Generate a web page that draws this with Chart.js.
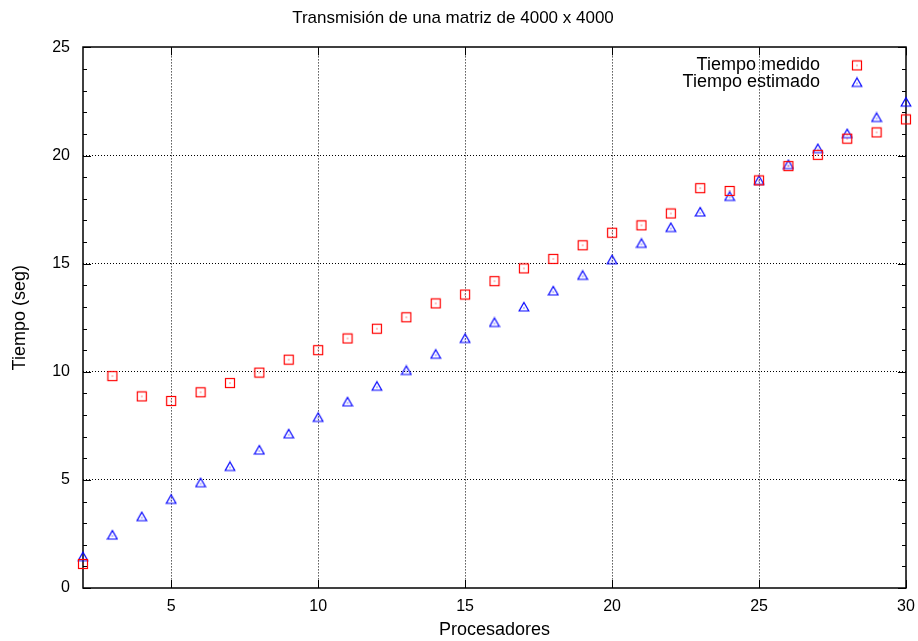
<!DOCTYPE html>
<html>
<head>
<meta charset="utf-8">
<title>Transmisión de una matriz de 4000 x 4000</title>
<script src="https://cdn.jsdelivr.net/npm/chart.js@4/dist/chart.umd.min.js"></script>
<style>
    html, body { margin: 0; padding: 0; background: #fff; }
    #chart { display: block; }
</style>
</head>
<body>
<canvas id="chart" width="918" height="641"></canvas>
<script>
// Datos
const procesadores = [2, 3, 4, 5, 6, 7, 8, 9, 10, 11, 12, 13, 14, 15, 16, 17, 18, 19, 20, 21, 22, 23, 24, 25, 26, 27, 28, 29, 30];
const tiempoMedido = [1.11, 9.80, 8.86, 8.65, 9.05, 9.48, 9.96, 10.56, 11.00, 11.54, 11.99, 12.52, 13.16, 13.57, 14.19, 14.78, 15.22, 15.85, 16.43, 16.77, 17.32, 18.49, 18.36, 18.85, 19.51, 20.03, 20.78, 21.07, 21.67];
const tiempoEstimado = [1.45, 2.45, 3.30, 4.10, 4.87, 5.62, 6.38, 7.13, 7.89, 8.61, 9.33, 10.06, 10.81, 11.54, 12.28, 13.00, 13.74, 14.46, 15.18, 15.94, 16.67, 17.39, 18.11, 18.85, 19.58, 20.32, 21.01, 21.76, 22.47];
const xTicks = [5, 10, 15, 20, 25, 30];
const yTicks = [0, 5, 10, 15, 20, 25];
const seriesLabels = ['Tiempo medido', 'Tiempo estimado'];

const FONT = '"Liberation Sans", Arial, Helvetica, sans-serif';
Chart.defaults.font.family = FONT;
Chart.defaults.color = '#000';

// gnuplot-like markers (outline + centre dot)
function makeSquare(color) {
    const c = document.createElement('canvas');
    c.width = 12; c.height = 12;
    const g = c.getContext('2d');
    g.strokeStyle = color;
    g.lineWidth = 1.2;
    g.strokeRect(1.5, 1.5, 9, 9);
    g.fillStyle = color;
    g.fillRect(5.5, 5.5, 1, 1);
    return c;
}
function makeTriangle(color) {
    const c = document.createElement('canvas');
    c.width = 12; c.height = 12;
    const g = c.getContext('2d');
    g.strokeStyle = color;
    g.lineWidth = 1.2;
    g.beginPath();
    g.moveTo(6, 1.5);
    g.lineTo(10.8, 10);
    g.lineTo(1.2, 10);
    g.closePath();
    g.stroke();
    g.fillStyle = color;
    g.fillRect(5.5, 6.5, 1, 1);
    return c;
}
const squareRed = makeSquare('#ff0000');
const triangleBlue = makeTriangle('#0000ff');

// box, inward ticks and legend drawn like gnuplot
const gnuplotFrame = {
    id: 'gnuplotFrame',
    beforeDatasetsDraw(chart) {
        const { ctx, chartArea: a, scales: { x, y } } = chart;
        ctx.save();
        ctx.strokeStyle = '#000';
        ctx.lineWidth = 1;
        ctx.beginPath();
        // minor y ticks every 1
        for (let v = 0; v <= 25; v++) {
            const py = Math.round(y.getPixelForValue(v)) + 0.5;
            const len = v % 5 === 0 ? 8 : 4;
            ctx.moveTo(a.left, py); ctx.lineTo(a.left + len, py);
            ctx.moveTo(a.right, py); ctx.lineTo(a.right - len, py);
        }
        xTicks.forEach(v => {
            const px = Math.round(x.getPixelForValue(v)) + 0.5;
            ctx.moveTo(px, a.bottom); ctx.lineTo(px, a.bottom - 8);
            ctx.moveTo(px, a.top); ctx.lineTo(px, a.top + 8);
        });
        ctx.stroke();
        ctx.lineWidth = 1.5;
        ctx.strokeRect(Math.round(a.left), Math.round(a.top), Math.round(a.right - a.left), Math.round(a.bottom - a.top));
        ctx.restore();
    },
    afterDraw(chart) {
        const { ctx, chartArea: a } = chart;
        const textX = a.right - 86;
        const markX = a.right - 49;
        const marks = [squareRed, triangleBlue];
        ctx.save();
        ctx.font = '18px ' + FONT;
        ctx.fillStyle = '#000';
        ctx.textAlign = 'right';
        ctx.textBaseline = 'middle';
        seriesLabels.forEach((lbl, i) => {
            const py = a.top + 18 + i * 17;
            ctx.fillText(lbl, textX, py);
            ctx.drawImage(marks[i], markX - 6, py - 6);
        });
        ctx.restore();
    }
};

new Chart(document.getElementById('chart'), {
    type: 'scatter',
    data: {
        datasets: [
            {
                label: seriesLabels[0],
                data: procesadores.map((p, i) => ({ x: p, y: tiempoMedido[i] })),
                pointStyle: squareRed,
                pointRadius: 5,
                clip: false
            },
            {
                label: seriesLabels[1],
                data: procesadores.map((p, i) => ({ x: p, y: tiempoEstimado[i] })),
                pointStyle: triangleBlue,
                pointRadius: 5,
                clip: false
            }
        ]
    },
    options: {
        responsive: false,
        animation: false,
        layout: { padding: { left: 0, right: 12, top: 0, bottom: 0 } },
        plugins: {
            legend: { display: false },
            tooltip: { enabled: false },
            title: {
                display: true,
                text: 'Transmisión de una matriz de 4000 x 4000',
                font: { size: 17, weight: 'normal' },
                color: '#000',
                padding: { top: 8, bottom: 19 }
            }
        },
        scales: {
            x: {
                type: 'linear',
                min: 2,
                max: 30,
                afterBuildTicks: scale => { scale.ticks = xTicks.map(v => ({ value: v })); },
                afterFit: scale => {
                    scale.height = 53;
                    scale.paddingLeft = 0;
                    scale.paddingRight = 0;
                },
                ticks: { font: { size: 16 }, color: '#000', padding: 9, maxRotation: 0 },
                grid: {
                    drawTicks: false,
                    color: c => (c.tick && c.tick.value === 30) ? 'rgba(0,0,0,0)' : '#000',
                    lineWidth: 1
                },
                border: { display: false, dash: [1, 2] },
                title: { display: true, text: 'Procesadores', font: { size: 18 }, color: '#000', padding: { top: 0, bottom: 0 } }
            },
            y: {
                min: 0,
                max: 25,
                afterBuildTicks: scale => { scale.ticks = yTicks.map(v => ({ value: v })); },
                afterFit: scale => { scale.width = 83; },
                ticks: { font: { size: 16 }, color: '#000', padding: 13 },
                grid: {
                    drawTicks: false,
                    color: c => (c.tick && (c.tick.value === 0 || c.tick.value === 25)) ? 'rgba(0,0,0,0)' : '#000',
                    lineWidth: 1
                },
                border: { display: false, dash: [1, 2] },
                title: { display: true, text: 'Tiempo (seg)', font: { size: 18 }, color: '#000', padding: { top: 9, bottom: 0 } }
            }
        }
    },
    plugins: [gnuplotFrame]
});
</script>
</body>
</html>
